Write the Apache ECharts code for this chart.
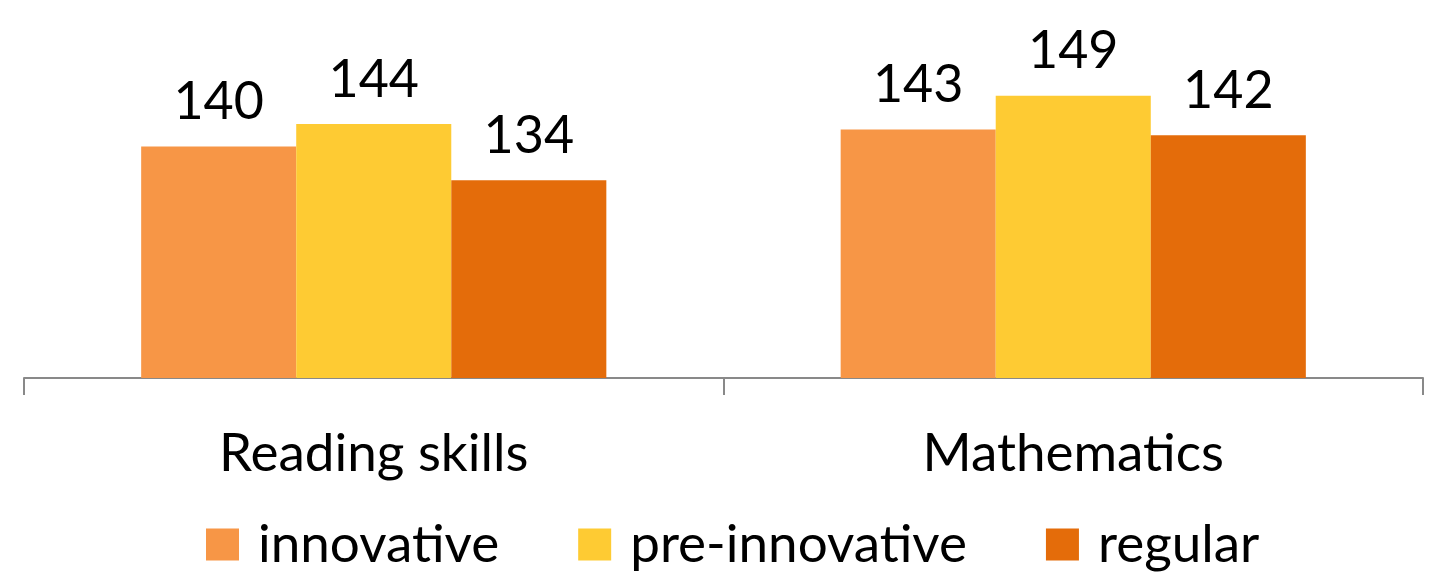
<!DOCTYPE html>
<html>
<head>
<meta charset="utf-8">
<script src="https://cdn.jsdelivr.net/npm/echarts@6/dist/echarts.min.js"></script>
<style>
html,body{margin:0;padding:0;background:#fff;}
#chart{width:1443px;height:572px;}
</style>
</head>
<body>
<div id="chart"></div>
<script>
const categories = ['Reading skills', 'Mathematics'];
const seriesNames = ['innovative', 'pre-innovative', 'regular'];
const innovative = [140, 143];
const preInnovative = [144, 149];
const regular = [134, 142];
const colors = ['#F79646', '#FECB33', '#E46C0A'];

const FONT = 'Lato';
const chart = echarts.init(document.getElementById('chart'), null, {renderer: 'canvas'});
const labelCfg = {
  show: true,
  position: 'top',
  distance: 18,
  color: '#000',
  fontFamily: FONT,
  fontSize: 52
};
const dataSets = [innovative, preInnovative, regular];
chart.setOption({
  animation: false,
  backgroundColor: '#fff',
  color: colors,
  grid: {left: 24, right: 20, top: 90, bottom: 194, containLabel: false},
  legend: {
    data: seriesNames,
    left: 206,
    top: 518,
    padding: 0,
    itemWidth: 33,
    itemHeight: 32,
    itemGap: 79,
    icon: 'rect',
    textStyle: {fontFamily: FONT, fontSize: 53, color: '#000', padding: [0, 0, 0, 14]}
  },
  xAxis: {
    type: 'category',
    data: categories,
    axisLine: {show: true, lineStyle: {color: '#898989', width: 2}},
    axisTick: {show: true, length: 17, lineStyle: {color: '#898989', width: 2}},
    axisLabel: {fontFamily: FONT, fontSize: 53, color: '#000', margin: 49}
  },
  yAxis: {
    type: 'value',
    min: 99,
    max: 150,
    show: false,
    splitLine: {show: false}
  },
  series: seriesNames.map((n, i) => ({
    name: n,
    type: 'bar',
    data: dataSets[i],
    barGap: '0%',
    barCategoryGap: '33.5%',
    label: labelCfg,
    itemStyle: {color: colors[i]}
  }))
});
</script>
</body>
</html>
